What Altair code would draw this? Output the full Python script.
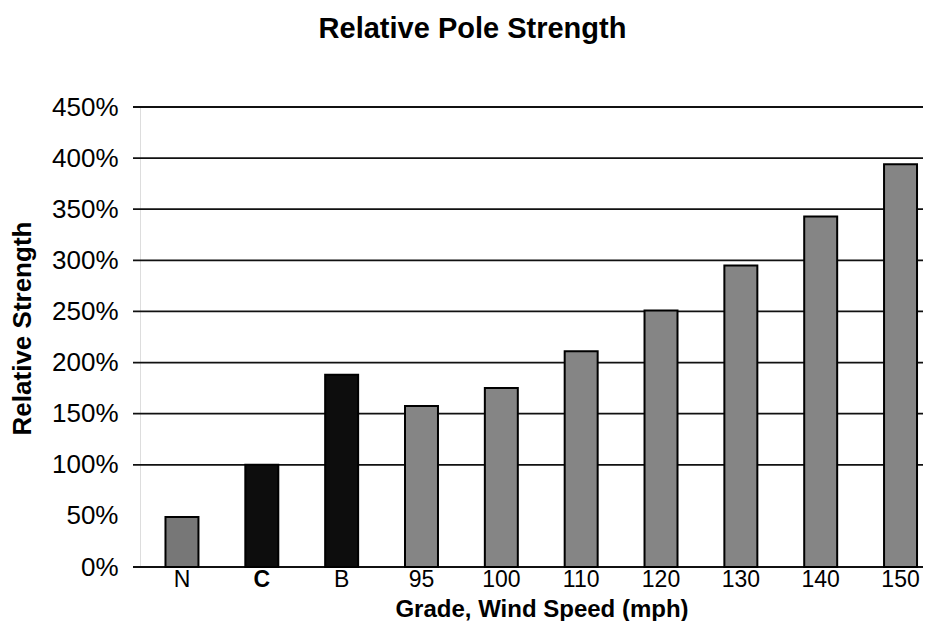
import altair as alt
import pandas as pd

grades = ["N", "C", "B", "95", "100", "110", "120", "130", "140", "150"]
strength = [0.49, 1.00, 1.88, 1.575, 1.75, 2.11, 2.51, 2.95, 3.43, 3.94]
style = ["N", "Grade", "Grade", "Wind", "Wind", "Wind", "Wind", "Wind", "Wind", "Wind"]
grid_values = [0, 1.0, 1.5, 2.0, 2.5, 3.0, 3.5, 4.0, 4.5]
y_ticks = [0, 0.5, 1.0, 1.5, 2.0, 2.5, 3.0, 3.5, 4.0, 4.5]

df = pd.DataFrame({"grade": grades, "strength": strength, "style": style})
grid_df = pd.DataFrame({"g": grid_values})

FONT = "Liberation Sans"
W, H = 783, 460

y_scale = alt.Scale(domain=[0, 4.5], nice=False, zero=True)

y_axis = alt.Axis(
    title="Relative Strength",
    titleFont=FONT,
    titleFontSize=26,
    titleFontWeight="bold",
    titleColor="#000000",
    titleAngle=270,
    titleBaseline="top",
    titleX=-131,
    titleY=221,
    values=y_ticks,
    format=".0%",
    labelFont=FONT,
    labelFontSize=26,
    labelColor="#000000",
    labelPadding=22,
    ticks=False,
    domain=False,
    grid=False,
)

grid = alt.Chart(grid_df).mark_rule(color="#111111", strokeWidth=1.8).encode(
    y=alt.Y("g:Q", scale=y_scale, axis=y_axis),
    x=alt.value(-7),
    x2=alt.value(W),
)

bars = alt.Chart(df).mark_bar(stroke="#000000", strokeWidth=2).encode(
    x=alt.X(
        "grade:N",
        sort=grades,
        scale=alt.Scale(paddingInner=0.587, paddingOuter=0.197, align=0.81),
        axis=alt.Axis(
            title="Grade, Wind Speed (mph)",
            titleFont=FONT,
            titleFontSize=24,
            titleFontWeight="bold",
            titleColor="#000000",
            titleBaseline="alphabetic",
            titleY=49,
            titleX=W / 2 + 10,
            labelFont=FONT,
            labelFontSize=23,
            labelColor="#000000",
            labelAngle=0,
            labelPadding=1,
            labelFontWeight={"condition": {"test": "datum.value === 'C'", "value": "bold"}, "value": "normal"},
            ticks=False,
            domain=False,
            grid=False,
        ),
    ),
    y=alt.Y("strength:Q", scale=y_scale, axis=y_axis),
    fill=alt.Fill(
        "style:N",
        scale=alt.Scale(domain=["N", "Grade", "Wind"], range=["#777777", "#0d0d0d", "#858585"]),
        legend=None,
    ),
)

chart = (
    alt.layer(grid, bars)
    .properties(
        width=W,
        height=H,
        autosize=alt.AutoSizeParams(type="none"),
        padding={"left": 132, "top": 99, "right": 0, "bottom": 54},
        title=alt.TitleParams(
            "Relative Pole Strength",
            font=FONT,
            fontSize=29,
            fontWeight="bold",
            color="#000000",
            anchor="middle",
            baseline="alphabetic",
            offset=27,
            dx=-59,
        ),
    )
    .configure_view(stroke="transparent", strokeWidth=0, strokeOpacity=0)
    .configure_axis(domain=False, grid=False, ticks=False)
    .configure(background="#ffffff")
)

chart.save("out.html", embed_options={"renderer": "svg", "actions": False})
